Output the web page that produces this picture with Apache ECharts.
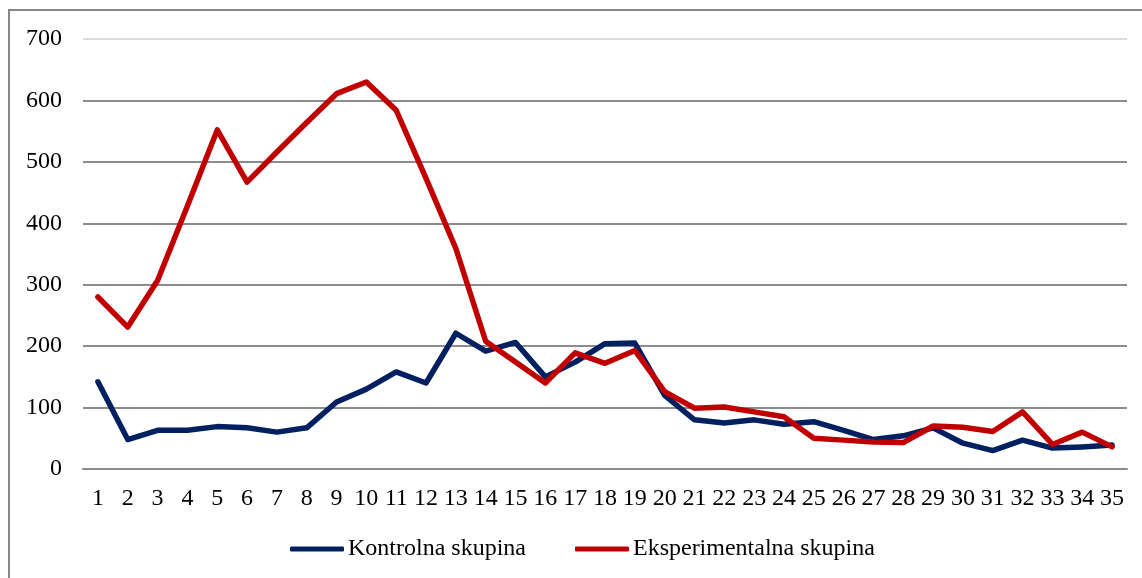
<!doctype html>
<html lang="sl">
<head>
    <meta charset="UTF-8">
    <title>Kontrolna in eksperimentalna skupina</title>
    <script src="https://cdn.jsdelivr.net/npm/echarts@6/dist/echarts.min.js"></script>
    <style>
        html, body { margin: 0; padding: 0; background: #fff; }
        #main { width: 1142px; height: 578px; }
    </style>
</head>
<body>
<div id="main"></div>
<script>
    var categories = ['1','2','3','4','5','6','7','8','9','10','11','12','13','14','15','16','17','18',
        '19','20','21','22','23','24','25','26','27','28','29','30','31','32','33','34','35'];
    var kontrolna = [142, 48, 63, 63, 69, 67, 60, 67, 109, 130, 158, 140, 221, 192, 206, 150, 174, 204,
        205, 120, 80, 75, 80, 73, 77, 63, 48, 54, 67, 42, 30, 47, 34, 36, 39];
    var eksperimentalna = [280, 231, 307, 428, 552, 467, 516, 564, 611, 630, 584, 473, 359, 208, 174, 140, 189, 172,
        193, 126, 99, 101, 93, 85, 50, 47, 44, 43, 70, 68, 61, 93, 40, 60, 36];
    var yTicks = [0, 100, 200, 300, 400, 500, 600, 700];

    var font = "'Liberation Serif', 'Times New Roman', serif";
    var myChart = echarts.init(document.getElementById('main'));
    var option = {
        animation: false,
        textStyle: { fontFamily: font },
        graphic: [
            {
                type: 'rect',
                shape: { x: 9, y: 10, width: 1300, height: 700 },
                style: { fill: 'none', stroke: '#868686', lineWidth: 2 },
                silent: true
            }
        ],
        grid: { left: 83, right: 15, top: 39, bottom: 109 },
        legend: {
            bottom: 12,
            left: 285,
            icon: 'roundRect',
            itemWidth: 54,
            itemHeight: 5,
            itemGap: 49,
            textStyle: { fontFamily: font, fontSize: 24, color: '#000', padding: [0, 0, 0, -1] },
            data: ['Kontrolna skupina', 'Eksperimentalna skupina']
        },
        xAxis: {
            type: 'category',
            data: categories,
            boundaryGap: true,
            axisLine: { show: true, lineStyle: { color: '#8c8c8c', width: 2 } },
            axisTick: { show: false },
            axisLabel: { color: '#000', fontFamily: font, fontSize: 24, margin: 18, interval: 0 }
        },
        yAxis: {
            type: 'value',
            min: yTicks[0],
            max: yTicks[yTicks.length - 1],
            interval: 100,
            axisLine: { show: false },
            axisTick: { show: false },
            axisLabel: { color: '#000', fontFamily: font, fontSize: 24, margin: 21 },
            splitLine: {
                lineStyle: {
                    color: ['#8c8c8c', '#8c8c8c', '#8c8c8c', '#8c8c8c', '#8c8c8c', '#8c8c8c', '#8c8c8c', '#dcdcdc'],
                    width: 2
                }
            }
        },
        series: [
            {
                name: 'Kontrolna skupina',
                type: 'line',
                data: kontrolna,
                symbol: 'none',
                itemStyle: { color: '#002060' },
                lineStyle: { color: '#002060', width: 5.5, cap: 'round', join: 'round' }
            },
            {
                name: 'Eksperimentalna skupina',
                type: 'line',
                data: eksperimentalna,
                symbol: 'none',
                itemStyle: { color: '#C00000' },
                lineStyle: { color: '#C00000', width: 5.5, cap: 'round', join: 'round' }
            }
        ]
    };
    myChart.setOption(option);
</script>
</body>
</html>
